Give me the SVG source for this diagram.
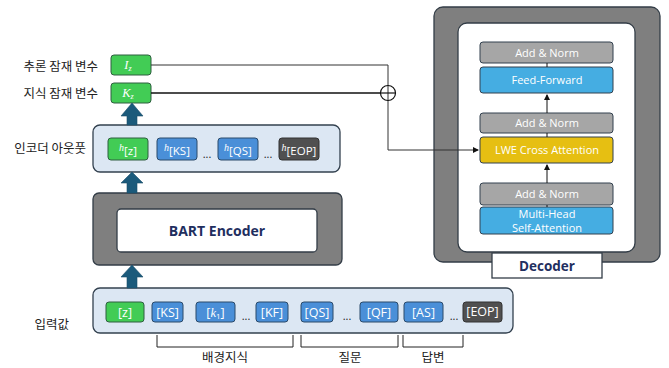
<svg xmlns="http://www.w3.org/2000/svg" width="669" height="368" viewBox="0 0 669 368">
<defs>
<style>
.lbl{font-family:"Noto Sans CJK KR","Noto Sans",sans-serif;font-size:12.5px;fill:#222}
.tok{font-family:"Open Sans","Noto Sans",sans-serif;font-size:12.5px;fill:#fff}
.it{font-family:"Liberation Serif",serif;font-style:italic}
.green{fill:#42cc55;stroke:#2f5f40;stroke-width:1}
.blue{fill:#4a8fd8;stroke:#2a4a6a;stroke-width:1}
.dark{fill:#505050;stroke:#333;stroke-width:1}
.panel{fill:#dce7f3;stroke:#33414f;stroke-width:1.3}
.gray{fill:#7f7f7f;stroke:#333d47;stroke-width:1.3}
.white{fill:#fff;stroke:#333d47;stroke-width:1.3}
.bold{font-family:"Open Sans","Noto Sans",sans-serif;font-weight:bold;fill:#1f2f5f}
.layer{stroke:#33414f;stroke-width:1}
.dt{font-family:"Open Sans","Noto Sans",sans-serif;font-size:11px;fill:#fff}
.bigarrow{fill:#1b5a7b;stroke:#1b4e6a;stroke-width:0.6}
.dots{font-family:"Open Sans",sans-serif;font-size:11px;fill:#222}
</style>
<marker id="ah" markerWidth="6" markerHeight="6" refX="5" refY="3" orient="auto" markerUnits="userSpaceOnUse">
<path d="M0,0 L6,3 L0,6 z" fill="#111"/>
</marker>
</defs>

<!-- left labels -->
<g id="labels">
<text class="lbl" x="98" y="71" text-anchor="end">추론 잠재 변수</text>
<text class="lbl" x="98" y="98" text-anchor="end">지식 잠재 변수</text>
<text class="lbl" x="86" y="153" text-anchor="end">인코더 아웃풋</text>
<text class="lbl" x="69" y="329" text-anchor="end">입력값</text>
</g>

<!-- latent variables -->
<g id="Iz">
<rect class="green" x="111" y="55" width="40" height="20" rx="3"/>
<text class="tok it" x="128" y="69" text-anchor="middle" font-size="11">I<tspan font-size="8" dy="2">z</tspan></text>
</g>
<g id="Kz">
<rect class="green" x="111" y="83" width="40" height="20" rx="3"/>
<text class="tok it" x="128" y="97" text-anchor="middle" font-size="11">K<tspan font-size="8" dy="2">z</tspan></text>
</g>

<!-- encoder output -->
<g id="encoder-output">
<rect class="panel" x="93" y="125" width="247" height="47" rx="7"/>
<rect class="green" x="108" y="138" width="40" height="22" rx="3"/>
<text class="tok" x="128" y="155" text-anchor="middle"><tspan class="it" font-size="10" dy="-4">h</tspan><tspan font-size="11.5" dy="4">[z]</tspan></text>
<rect class="blue" x="157" y="138" width="40" height="22" rx="3"/>
<text class="tok" x="177" y="155" text-anchor="middle"><tspan class="it" font-size="10" dy="-4">h</tspan><tspan font-size="11.5" dy="4">[KS]</tspan></text>
<text class="dots" x="207" y="158" text-anchor="middle">...</text>
<rect class="blue" x="218" y="138" width="40" height="22" rx="3"/>
<text class="tok" x="238" y="155" text-anchor="middle"><tspan class="it" font-size="10" dy="-4">h</tspan><tspan font-size="11.5" dy="4">[QS]</tspan></text>
<text class="dots" x="268" y="158" text-anchor="middle">...</text>
<rect class="dark" x="279" y="138" width="40" height="22" rx="3"/>
<text class="tok" x="299" y="155" text-anchor="middle"><tspan class="it" font-size="10" dy="-4">h</tspan><tspan font-size="11.5" dy="4">[EOP]</tspan></text>
</g>

<!-- BART encoder -->
<g id="bart-encoder">
<rect class="gray" x="93" y="193" width="249" height="72" rx="6"/>
<rect class="white" x="117" y="209" width="200" height="43" rx="4"/>
<text class="bold" x="217" y="236" text-anchor="middle" font-size="14">BART Encoder</text>
</g>

<!-- input -->
<g id="input">
<rect class="panel" x="93" y="288" width="420" height="45" rx="7"/>
<rect class="green" x="106" y="302" width="38" height="20" rx="3"/>
<text class="tok" x="125" y="317" text-anchor="middle">[z]</text>
<rect class="blue" x="152" y="302" width="31" height="20" rx="3"/>
<text class="tok" x="167.5" y="317" text-anchor="middle">[KS]</text>
<rect class="blue" x="196" y="302" width="39" height="20" rx="3"/>
<text class="tok" x="215.5" y="317" text-anchor="middle">[<tspan class="it">k</tspan><tspan font-size="8" dy="2">1</tspan><tspan dy="-2">]</tspan></text>
<text class="dots" x="246" y="320" text-anchor="middle">...</text>
<rect class="blue" x="256" y="302" width="32" height="20" rx="3"/>
<text class="tok" x="272" y="317" text-anchor="middle">[KF]</text>
<rect class="blue" x="301" y="302" width="32" height="20" rx="3"/>
<text class="tok" x="317" y="317" text-anchor="middle">[QS]</text>
<text class="dots" x="347" y="320" text-anchor="middle">...</text>
<rect class="blue" x="360" y="302" width="38" height="20" rx="3"/>
<text class="tok" x="379" y="317" text-anchor="middle">[QF]</text>
<rect class="blue" x="404" y="302" width="39" height="20" rx="3"/>
<text class="tok" x="423.5" y="317" text-anchor="middle">[AS]</text>
<text class="dots" x="454" y="320" text-anchor="middle">...</text>
<rect class="dark" x="463" y="302" width="39" height="20" rx="3"/>
<text class="tok" x="482.5" y="316" text-anchor="middle" font-size="10">[EOP]</text>
</g>

<!-- brackets -->
<g id="segments" fill="none" stroke="#222" stroke-width="1">
<path d="M157,335 V347 H293 V335"/>
<path d="M301,335 V347 H398 V335"/>
<path d="M403,335 V347 H463 V335"/>
</g>
<g id="segment-labels">
<text class="lbl" x="225" y="362" text-anchor="middle">배경지식</text>
<text class="lbl" x="350" y="362" text-anchor="middle">질문</text>
<text class="lbl" x="433" y="362" text-anchor="middle">답변</text>
</g>

<!-- decoder -->
<g id="decoder">
<rect class="gray" x="434" y="7" width="226" height="255" rx="9"/>
<rect class="white" x="458" y="23" width="177" height="229" rx="9"/>
<rect class="white" x="492" y="253" width="110" height="25" rx="0"/>
<text class="bold" x="547" y="271" text-anchor="middle" font-size="13.5">Decoder</text>
</g>
<g id="add-norm-3">
<rect class="layer" fill="#a6a6a6" x="480" y="42" width="133" height="21" rx="3"/>
<text class="dt" x="547" y="56.5" text-anchor="middle">Add &amp; Norm</text>
</g>
<g id="feed-forward">
<rect class="layer" fill="#45ade2" x="480" y="67" width="133" height="26" rx="3"/>
<text class="dt" x="547" y="84" text-anchor="middle">Feed-Forward</text>
</g>
<g id="add-norm-2">
<rect class="layer" fill="#a6a6a6" x="480" y="113" width="133" height="20" rx="3"/>
<text class="dt" x="547" y="127" text-anchor="middle">Add &amp; Norm</text>
</g>
<g id="lwe-cross-attention">
<rect class="layer" fill="#e6bf12" x="480" y="137" width="133" height="26" rx="3"/>
<text class="dt" x="547" y="154" text-anchor="middle">LWE Cross Attention</text>
</g>
<g id="add-norm-1">
<rect class="layer" fill="#a6a6a6" x="480" y="183" width="133" height="22" rx="3"/>
<text class="dt" x="547" y="198" text-anchor="middle">Add &amp; Norm</text>
</g>
<g id="self-attention">
<rect class="layer" fill="#45ade2" x="480" y="207" width="133" height="27" rx="3"/>
<text class="dt" text-anchor="middle" font-size="10"><tspan x="547" y="217.5">Multi-Head</tspan><tspan x="547" y="231.5">Self-Attention</tspan></text>
</g>

<!-- connectors -->
<g id="connectors" fill="none">
<path d="M151,65 H388 V150 H478" stroke="#333" stroke-width="1" marker-end="url(#ah)"/>
<path d="M151,93 H381" stroke="#111" stroke-width="1.6"/>
<circle cx="388" cy="93" r="7.5" stroke="#111" stroke-width="1.2"/>
<path d="M380.5,93 H395.5" stroke="#111" stroke-width="1.2"/>
<path d="M547,183 V165" stroke="#111" stroke-width="1" marker-end="url(#ah)"/>
<path d="M547,113 V95" stroke="#111" stroke-width="1" marker-end="url(#ah)"/>
<path d="M547,63 V67" stroke="#111" stroke-width="1"/>
<path d="M547,133 V137" stroke="#111" stroke-width="1"/>
<path d="M547,205 V207" stroke="#111" stroke-width="1"/>
<path class="bigarrow" d="M127,125 V116 H121 L132,103 L143,116 H137 V125 Z"/>
<path class="bigarrow" d="M127,193 V183 H121 L132,172 L143,183 H137 V193 Z"/>
<path class="bigarrow" d="M127,288 V277 H121 L132,265 L143,277 H137 V288 Z"/>
</g>
</svg>
